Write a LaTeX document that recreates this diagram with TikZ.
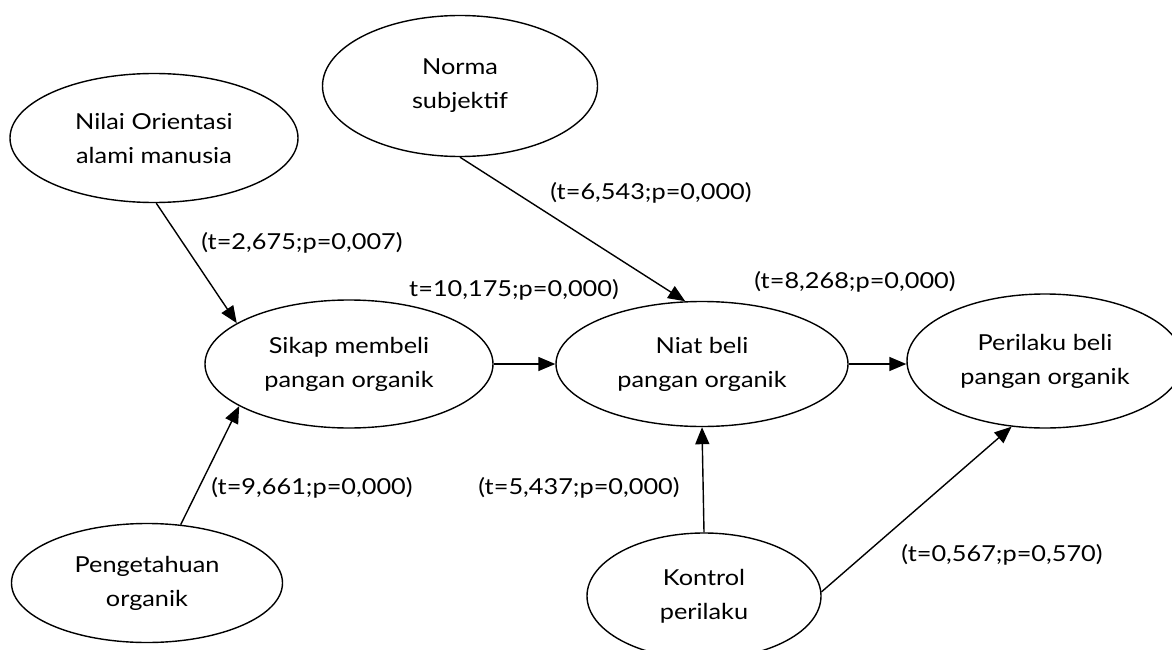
\documentclass[tikz,border=0pt]{standalone}
\usepackage{fontspec}
\setmainfont{Lato}[FakeStretch=1.15]
\usetikzlibrary{shapes.geometric,arrows.meta}
\begin{document}
\begin{tikzpicture}[x=1pt,y=-1pt,
  oval/.style={ellipse,draw,line width=1.4pt,inner sep=0pt,align=center,
    font=\fontsize{22}{34}\selectfont},
  lab/.style={inner sep=0pt,font=\fontsize{22}{26}\selectfont},
  conn/.style={line width=1.4pt,-{Triangle[length=17pt,width=14pt]}}]
\useasboundingbox (0,0) rectangle (1172,650);
\node[oval,minimum width=288pt,minimum height=129pt] (nilai) at (154,138) {Nilai Orientasi\\alami manusia};
\node[oval,minimum width=275pt,minimum height=141pt] (norma) at (460,86) {Norma\\subjektif};
\node[oval,minimum width=288pt,minimum height=128pt] (sikap) at (349,364) {Sikap membeli\\pangan organik};
\node[oval,minimum width=292pt,minimum height=125pt] (niat) at (702,364) {Niat beli\\pangan organik};
\node[oval,minimum width=276pt,minimum height=134pt] (peril) at (1045,361) {Perilaku beli\\pangan organik};
\node[oval,minimum width=271pt,minimum height=119pt] (penget) at (147,583) {Pengetahuan\\organik};
\node[oval,minimum width=234pt,minimum height=126pt] (kontrol) at (704,596) {Kontrol\\perilaku};

\draw[conn] (nilai.-88) -- (sikap.160);
\draw[conn] (penget.60) -- (sikap.201);
\draw[conn] (sikap.east) -- (niat.west);
\draw[conn] (norma.south) -- (niat.105);
\draw[conn] (niat.east) -- (peril.west |- niat.east);
\draw[conn] (kontrol.north) -- (niat.south);
\draw[conn] (kontrol.2) -- (peril.243);

\node[lab] (l1) at (302,243) {(t=2,675;p=0,007)};
\node[lab] (l2) at (514,290) {t=10,175;p=0,000)};
\node[lab] (l3) at (651,193) {(t=6,543;p=0,000)};
\node[lab] (l4) at (855,282) {(t=8,268;p=0,000)};
\node[lab] (l5) at (312,488) {(t=9,661;p=0,000)};
\node[lab] (l6) at (579,488) {(t=5,437;p=0,000)};
\node[lab] (l7) at (1002,555) {(t=0,567;p=0,570)};
\end{tikzpicture}
\end{document}
